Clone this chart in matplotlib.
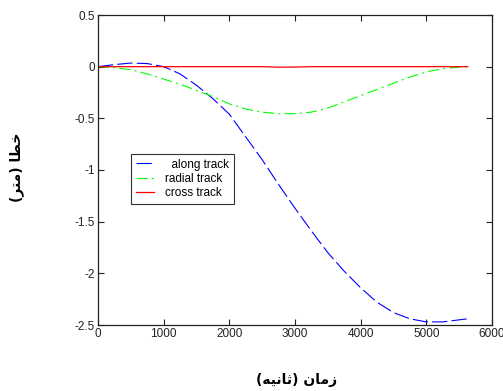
import numpy as np
import matplotlib
matplotlib.use("Agg")
import matplotlib.pyplot as plt

# time grid (s) and error series (m)
time_s = [0, 250, 500, 750, 1000, 1250, 1500, 1750, 2000, 2250, 2500, 2750,
          3000, 3250, 3500, 3750, 4000, 4250, 4500, 4750, 5000, 5250, 5500, 5630]
along_track = [0, 0.02, 0.035, 0.03, 0.0, -0.07, -0.18, -0.31, -0.46, -0.68, -0.90, -1.14,
               -1.37, -1.59, -1.80, -1.98, -2.14, -2.28, -2.38, -2.44, -2.47, -2.47, -2.45, -2.44]
radial_track = [0, -0.01, -0.03, -0.07, -0.12, -0.17, -0.23, -0.29, -0.36, -0.41, -0.44, -0.455,
                -0.455, -0.44, -0.40, -0.34, -0.28, -0.22, -0.16, -0.10, -0.05, -0.02, -0.005, 0]
cross_track = [0, 0, 0, 0, 0, 0, 0, 0, 0, 0, 0, -0.005,
               -0.004, 0, 0, 0, 0, 0, 0, 0, 0, 0, 0, 0]

legend_labels = ['  along track', 'radial track', 'cross track  ']
x_ticks = [0, 1000, 2000, 3000, 4000, 5000, 6000]
y_ticks = [-2.5, -2, -1.5, -1, -0.5, 0, 0.5]

# Persian labels in presentation forms, visual (left-to-right) order
# "خطا (متر)"
ylabel_fa = '(\uFEAE\uFE98\uFEE3) \uFE8E\uFEC4\uFEA7'
# "زمان (ثانیه)"
xlabel_fa = '(\uFEEA\uFEF4\uFEE7\uFE8E\uFE9B) \uFEE5\uFE8E\uFEE3\uFEAF'

plt.rcParams['font.family'] = ['Liberation Sans', 'DejaVu Sans']
plt.rcParams['lines.scale_dashes'] = False

fig = plt.figure(figsize=(5.03, 3.91), dpi=100)
ax = fig.add_axes([98 / 503, 1 - 325 / 391, 394 / 503, 310 / 391])

ax.plot(time_s, along_track, color='#0000ff', lw=0.8, dashes=(11, 3),
        label=legend_labels[0])
ax.plot(time_s, radial_track, color='#00ff00', lw=0.8, dashes=(8, 3, 1.5, 3),
        label=legend_labels[1])
ax.plot(time_s, cross_track, color='#ff0000', lw=0.9, label=legend_labels[2])

ax.set_xlim(0, 6000)
ax.set_ylim(-2.5, 0.5)
ax.set_xticks(x_ticks)
ax.set_yticks(y_ticks)
ax.set_xticklabels([str(v) for v in x_ticks])
ax.set_yticklabels(['-2.5', '-2', '-1.5', '-1', '-0.5', '0', '0.5'])
ax.tick_params(direction='in', length=4, width=0.8, labelsize=8.5,
               top=True, right=True, colors='#222222', pad=2)
for s in ax.spines.values():
    s.set_linewidth(0.9)
    s.set_color('#222222')

leg = ax.legend(loc='upper left', bbox_to_anchor=(0.084, 0.552), fontsize=8.5,
                frameon=True, fancybox=False, edgecolor='black',
                handlelength=1.5, handletextpad=1.0, borderpad=0.4,
                labelspacing=0.18, borderaxespad=0)
leg.get_frame().set_linewidth(0.8)

fig.text(17 / 503, 1 - 167 / 391, ylabel_fa, rotation=90, ha='center', va='center',
         fontsize=10, fontweight='bold', family=['DejaVu Sans'])
fig.text(297 / 503, 1 - 380 / 391, xlabel_fa, ha='center', va='center',
         fontsize=10, fontweight='bold', family=['DejaVu Sans'])

fig.savefig('out.png', dpi=100)
